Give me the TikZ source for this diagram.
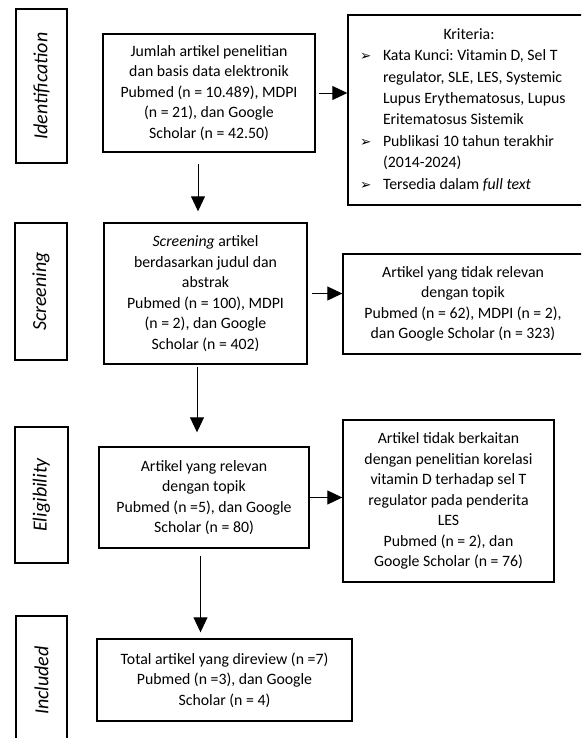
\documentclass[tikz,border=0pt]{standalone}
\usepackage{array}
\usepackage{fontspec}
\setmainfont{Carlito}
\newfontfamily\symfont{DejaVu Sans}
\usetikzlibrary{calc,arrows.meta}
\frenchspacing

\newcommand{\crit}{{\symfont\fontsize{13.5}{13.5}\selectfont ➢}}

\begin{document}
\begin{tikzpicture}[x=1pt, y=-1pt,
  stage/.style={draw, line width=1.4pt, rotate=90, inner sep=0pt, font=\fontsize{20}{24}\selectfont\itshape},
  box/.style={draw, line width=1.4pt, align=center, inner sep=0pt, font=\fontsize{15.8}{20.5}\selectfont},
  arr/.style={line width=0.9pt, -{Triangle[width=14pt,length=15pt]}}]
\useasboundingbox (0,0) rectangle (581,738);
\clip (0,0) rectangle (581,738);
% stages
\node [stage, minimum width=154, minimum height=51] (ident) at (41.5,86) {Identification};
\node [stage, minimum width=137, minimum height=52] (screening) at (41,291.5) {Screening};
\node [stage, minimum width=136, minimum height=53] (eligibility) at (41.5,495) {Eligibility};
\node [stage, minimum width=129, minimum height=51] (included) at (41.5,680.5) {Included};
% boxes
\node [box, minimum width=212, minimum height=118] (search) at (209,93)
  {Jumlah artikel penelitian\\dan basis data elektronik\\Pubmed (n = 10.489), MDPI\\(n = 21), dan Google\\Scholar (n = 42.50)};
\node [box, minimum width=242, minimum height=190, font=\fontsize{15.8}{21.4}\selectfont] (criteria) at (469,110)
  {\begin{tabular}{@{}p{23pt}@{}>{\raggedright\arraybackslash}p{195pt}@{}}
   \multicolumn{2}{c}{Kriteria:}\\
   \crit & Kata Kunci: Vitamin D, Sel T\newline regulator, SLE, LES, Systemic\newline Lupus Erythematosus, Lupus\newline Eritematosus Sistemik\\
   \crit & Publikasi 10 tahun terakhir\newline (2014-2024)\\
   \crit & Tersedia dalam \textit{full text}
   \end{tabular}};
\node [box, minimum width=203, minimum height=141] (screen) at (205.5,293.5)
  {\textit{Screening} artikel\\berdasarkan judul dan\\abstrak\\Pubmed (n = 100), MDPI\\(n = 2), dan Google\\Scholar (n = 402)};
\node [box, minimum width=240, minimum height=100] (notrel) at (463,304)
  {Artikel yang tidak relevan\\dengan topik\\Pubmed (n = 62), MDPI (n = 2),\\dan Google Scholar (n = 323)};
\node [box, minimum width=210, minimum height=101] (relevant) at (204,497.5)
  {Artikel yang relevan\\dengan topik\\Pubmed (n =5), dan Google\\Scholar (n = 80)};
\node [box, minimum width=211, minimum height=162] (unrelated) at (448.5,501)
  {Artikel tidak berkaitan\\dengan penelitian korelasi\\vitamin D terhadap sel T\\regulator pada penderita\\LES\\Pubmed (n = 2), dan\\Google Scholar (n = 76)};
\node [box, minimum width=255, minimum height=82] (reviewed) at (224.5,680)
  {Total artikel yang direview (n =7)\\Pubmed (n =3), dan Google\\Scholar (n = 4)};
% arrows
\draw [arr] ([xshift=3pt]search.east) -- (search.east -| criteria.west);
\draw [arr] ($(search.south)+(-11,11)$) -- ($(screen.north)+(-7.5,-11)$);
\draw [arr] ([xshift=4pt]screen.east) -- (screen.east -| notrel.west);
\draw [arr] ($(screen.south)+(-8.5,2)$) -- ($(relevant.north)+(-7,-14)$);
\draw [arr] (relevant.east) -- (relevant.east -| unrelated.west);
\draw [arr] ($(relevant.south)+(-3.5,7)$) -- ($(reviewed.north)+(-24,-6)$);
\end{tikzpicture}
\end{document}
